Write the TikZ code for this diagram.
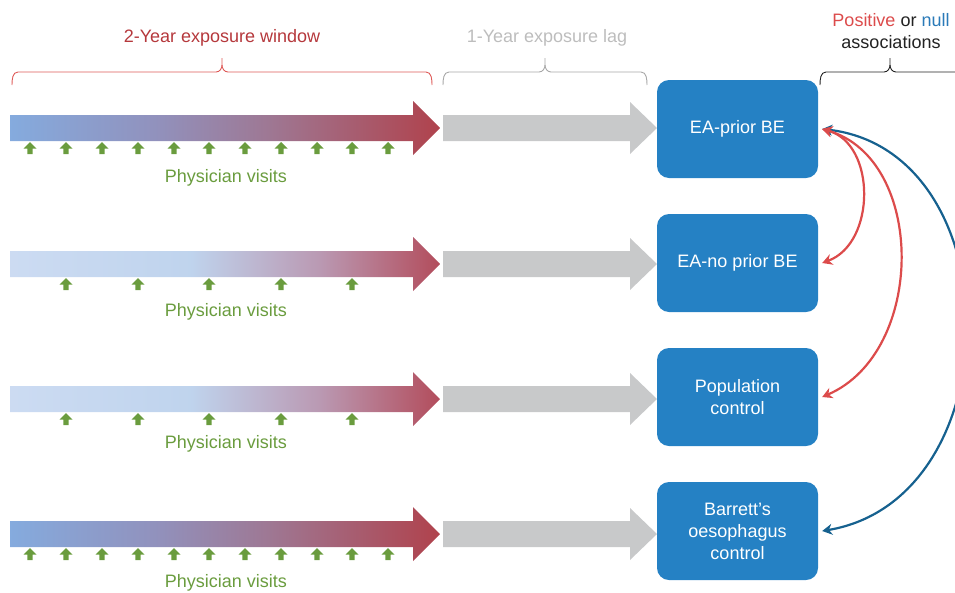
\documentclass[tikz,border=0pt]{standalone}
\usepackage{fontspec}
\setmainfont{Liberation Sans}
\usetikzlibrary{arrows.meta}

\definecolor{boxblue}{HTML}{2581C4}
\definecolor{titlered}{HTML}{B5383C}
\definecolor{bracered}{HTML}{DE5A58}
\definecolor{lagray}{HTML}{BDBDBD}
\definecolor{bracegray}{HTML}{A8A8A8}
\definecolor{arrgray}{HTML}{C8C9CA}
\definecolor{visitgreen}{HTML}{6A9C3E}
\definecolor{curvered}{HTML}{DC4B4B}
\definecolor{curveblue}{HTML}{16618F}
\definecolor{nullblue}{HTML}{2A7AB8}
\definecolor{darktext}{HTML}{222222}

\pgfdeclarehorizontalshading{strongshade}{100bp}{rgb(0bp)=(0.52,0.67,0.87); rgb(25bp)=(0.52,0.67,0.87); rgb(42bp)=(0.57,0.57,0.74); rgb(55bp)=(0.62,0.47,0.58); rgb(75bp)=(0.69,0.26,0.30); rgb(100bp)=(0.69,0.26,0.30)}
\pgfdeclarehorizontalshading{weakshade}{100bp}{rgb(0bp)=(0.80,0.86,0.95); rgb(25bp)=(0.80,0.86,0.95); rgb(46bp)=(0.75,0.83,0.93); rgb(61bp)=(0.73,0.60,0.70); rgb(75bp)=(0.70,0.30,0.36); rgb(100bp)=(0.70,0.30,0.36)}

\tikzset{
  txt/.style={font=\fontsize{18}{22}\selectfont, inner sep=0pt, align=center},
  box/.style={txt, rounded corners=12pt, fill=boxblue, text=white,
    minimum width=161pt, minimum height=98pt},
  visit/.pic={\fill[visitgreen] (-6.5,6.5) -- (0,0) -- (6.5,6.5) -- (2.6,6.5) -- (2.6,12) -- (-2.6,12) -- (-2.6,6.5) -- cycle;},
  curve/.style={line width=2.2pt, {Stealth[length=10pt,width=11pt]}-{Stealth[length=10pt,width=11pt]}},
  bracestyle/.style={line width=0.9pt}
}

\begin{document}
\begin{tikzpicture}[x=1pt,y=-1pt]
\clip (0,0) rectangle (955,592);

% exposure arrows
\foreach \y/\sh in {128/strongshade,264/weakshade,399/weakshade,534/strongshade}{
  \shade[shading=\sh] (10,\y-13) -- (413,\y-13) -- (413,\y-27) -- (440,\y) -- (413,\y+27) -- (413,\y+13) -- (10,\y+13) -- cycle;
  \fill[arrgray] (443,\y-13) -- (630,\y-13) -- (630,\y-26) -- (657,\y) -- (630,\y+26) -- (630,\y+13) -- (443,\y+13) -- cycle;
}

% physician visits markers
\foreach \x in {30,66,102,138,174,209,245,281,317,352,388}{
  \pic at (\x,142) {visit};
  \pic at (\x,548) {visit};
}
\foreach \x in {66,138,209,281,352}{
  \pic at (\x,278) {visit};
  \pic at (\x,413) {visit};
}
\node[txt, text=visitgreen] (pv1) at (226,178) {Physician visits};
\node[txt, text=visitgreen] (pv2) at (226,312) {Physician visits};
\node[txt, text=visitgreen] (pv3) at (226,444) {Physician visits};
\node[txt, text=visitgreen] (pv4) at (226,583) {Physician visits};

% braces
\draw[bracestyle, bracered] (12,85) to[out=90,in=180] (18,72) -- (216,72) to[out=0,in=-90] (222,65) -- (222,58);
\draw[bracestyle, bracered] (222,65) to[out=-90,in=180] (228,72) -- (426,72) to[out=0,in=90] (432,85);
\draw[bracestyle, bracegray] (443,85) to[out=90,in=180] (449,72) -- (539,72) to[out=0,in=-90] (545,65) -- (545,58);
\draw[bracestyle, bracegray] (545,65) to[out=-90,in=180] (551,72) -- (641,72) to[out=0,in=90] (647,85);
\draw[bracestyle, darktext] (820,85) to[out=90,in=180] (826,72) -- (884,72) to[out=0,in=-90] (890,65) -- (890,58);
\draw[bracestyle, darktext] (890,65) to[out=-90,in=180] (896,72) -- (960,72);

% titles
\node[txt, text=titlered] (t1) at (222,38) {2-Year exposure window};
\node[txt, text=lagray] (t2) at (547,38) {1-Year exposure lag};
\node[txt, text=darktext] (t3) at (891,31) {{\color{curvered}Positive} or {\color{nullblue}null}\\associations};

% outcome boxes
\node[box] (b1) at (737.5,129) {EA-prior BE};
\node[box] (b2) at (737.5,263) {EA-no prior BE};
\node[box] (b3) at (737.5,397) {Population\\control};
\node[box] (b4) at (737.5,531) {Barrett's\\oesophagus\\control};

% associations
\draw[curve, curveblue] ([xshift=4pt]b1.east) .. controls +(191,22) and +(191,-32) .. ([xshift=4pt]b4.east);
\draw[curve, curvered] ([xshift=4pt]b1.east) .. controls +(104,30) and +(104,-45) .. ([xshift=4pt]b3.east);
\draw[curve, curvered] ([xshift=4pt]b1.east) .. controls +(54,15) and +(54,-20) .. ([xshift=4pt]b2.east);
\end{tikzpicture}
\end{document}
